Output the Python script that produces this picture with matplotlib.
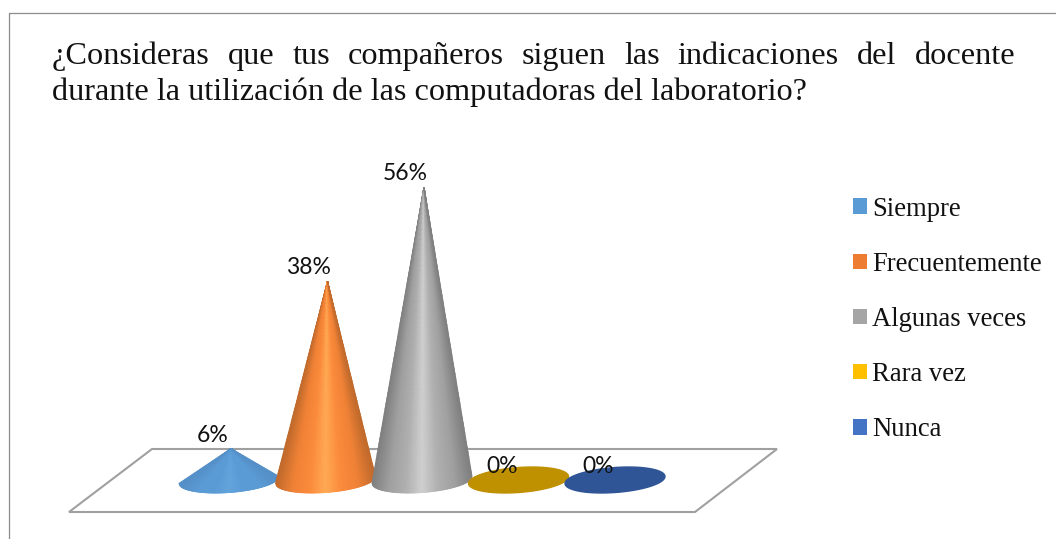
import numpy as np
import matplotlib
matplotlib.use('Agg')
import matplotlib.pyplot as plt
from matplotlib.colors import LinearSegmentedColormap
from matplotlib.patches import Patch

categories = ['Siempre', 'Frecuentemente', 'Algunas veces', 'Rara vez', 'Nunca']
values = [6, 38, 56, 0, 0]
value_labels = ['6%', '38%', '56%', '0%', '0%']
title_line1 = '¿Consideras que tus compañeros siguen las indicaciones del docente'
title_line2 = 'durante la utilización de las computadoras del laboratorio?'

legend_colors = ['#5b9bd5', '#ed7d31', '#a5a5a5', '#ffc000', '#4472c4']
cone_ramps = [
    ['#5590c8', '#5b9bd5', '#5b9bd5', '#64a4dd', '#5b9bd5', '#5b9bd5', '#5590c8'],
    ['#c06a2c', '#f08236', '#fb8a3c', '#ffaa55', '#fb8a3c', '#f08236', '#c06a2c'],
    ['#808080', '#a0a0a0', '#b0b0b0', '#d0d0d0', '#b0b0b0', '#a0a0a0', '#808080'],
]
flat_colors = {3: '#bf9000', 4: '#2f5597'}

W, H = 1056, 539
X0, DX = 229, 96.5      # px of first category, px per category
Y0, DY = 480, 5.23      # px of 0%, px per percent

fig = plt.figure(figsize=(W / 100, H / 100), dpi=100)

# page layer in pixels: frame, platform and title
page = fig.add_axes([0, 0, 1, 1])
page.set_xlim(0, W)
page.set_ylim(H, 0)
page.axis('off')
page.plot([9, 9, W], [H, 12.5, 12.5], color='#8c8c8c', lw=0.9)
page.fill([152, 777, 695, 69, 152], [449, 449, 512, 512, 449], facecolor='white',
          edgecolor='#a0a0a0', lw=1.5)

title_font = dict(family='Liberation Serif', fontsize=23.2, color='#111111', va='baseline')
words = title_line1.split()
texts = [page.text(0, 64, w, **title_font) for w in words]
fig.canvas.draw()
rend = fig.canvas.get_renderer()
widths = [t.get_window_extent(rend).width for t in texts]
gap = (1015 - 52 - sum(widths)) / (len(words) - 1)
x = 52
for t, w in zip(texts, widths):
    t.set_x(x)
    x += w + gap
page.text(52, 100, title_line2, **title_font)

# chart layer: category index on x, percent on y
ax = fig.add_axes([0, 0, 1, 1])
ax.patch.set_alpha(0)
ax.set_xlim(-X0 / DX, (W - X0) / DX)
ax.set_ylim(-(H - Y0) / DY, Y0 / DY)
ax.axis('off')

half_w = 50 / DX
half_h = 12.5 / DY
tilt = 3.5 / DY
apex_shift = 2 / DX

for i, v in enumerate(values):
    if v > 0:
        u = np.linspace(-1, 1, 81)
        s = np.linspace(0, 1, 60)
        U, S = np.meshgrid(u, s)
        base_y = -half_h * np.sqrt(1 - U ** 2) + tilt * U
        xx = (i + half_w * U) * (1 - S) + (i + apex_shift) * S
        yy = base_y * (1 - S) + v * S
        cmap = LinearSegmentedColormap.from_list('cone%d' % i, cone_ramps[i])
        ax.pcolormesh(xx, yy, U, cmap=cmap, shading='gouraud', vmin=-1, vmax=1, zorder=3 + i)
    else:
        t = np.linspace(0, 2 * np.pi, 100)
        ax.fill(i + half_w * np.cos(t), v + half_h * np.sin(t) + tilt * np.cos(t),
                color=flat_colors[i], zorder=3 + i)
    ax.annotate(value_labels[i], xy=(i, v), xytext=(-12, 9.8), textcoords='offset points',
                ha='center', va='center', family='Lato', fontsize=16.5, color='#111111', zorder=10)

handles = [Patch(facecolor=c, edgecolor='none') for c in legend_colors]
ax.legend(handles, categories, loc='upper left', bbox_to_anchor=(842 / W, 1 - 186 / H),
          bbox_transform=fig.transFigure, frameon=False, ncol=1,
          prop={'family': 'Liberation Serif', 'size': 19.2}, labelcolor='#111111',
          handlelength=0.52, handleheight=0.52, handletextpad=0.22, labelspacing=1.13,
          borderpad=0.4, borderaxespad=0)

fig.savefig('out.png', dpi=100)
